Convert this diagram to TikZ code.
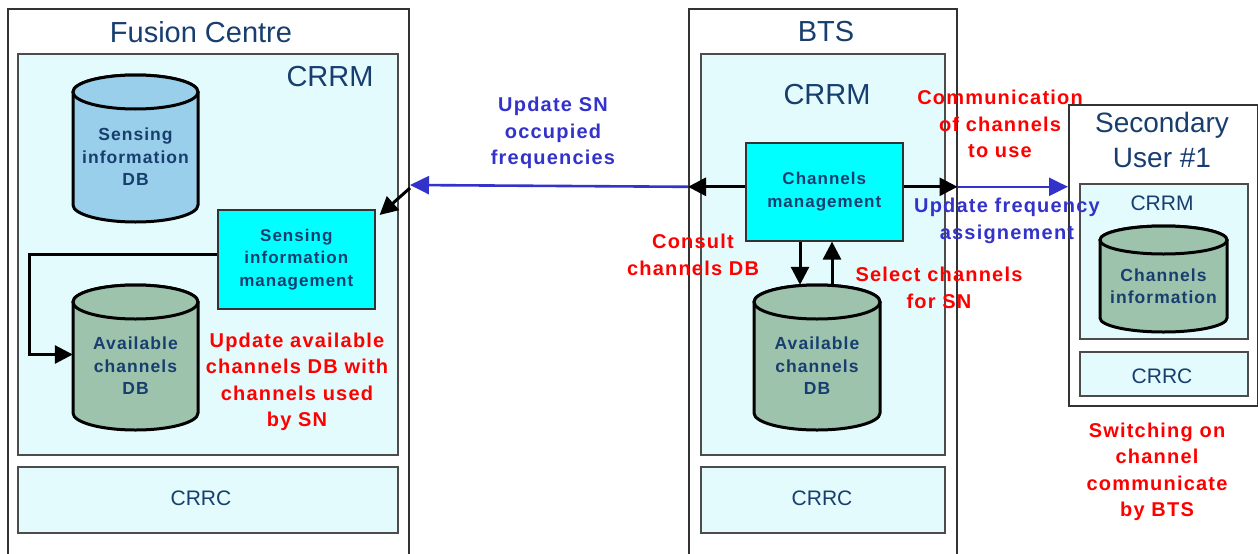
\documentclass[tikz,border=0pt]{standalone}
\usepackage{fontspec}
\setmainfont{Liberation Sans}
\newfontfamily\spaced[LetterSpace=6]{Liberation Sans}
\usetikzlibrary{arrows.meta}

\definecolor{navy}{HTML}{173E6E}
\definecolor{panelcyan}{HTML}{E3FBFC}
\definecolor{mgmtcyan}{HTML}{00FFFF}
\definecolor{sensblue}{HTML}{99CFEA}
\definecolor{chgreen}{HTML}{9DC3AD}
\definecolor{msgred}{HTML}{FF0000}
\definecolor{msgblue}{HTML}{3333CC}

\tikzset{
  box/.style n args={2}{minimum width=#1, minimum height=#2, anchor=north west, inner sep=0pt},
  outerbox/.style={draw=black!80, line width=1.5pt},
  panel/.style={draw=black!70, fill=panelcyan, line width=1.6pt},
  mgmt/.style={draw=black!80, fill=mgmtcyan, line width=1.6pt,
    text=navy, font=\spaced\bfseries\fontsize{17}{22.5}\selectfont, align=center},
  title/.style={text=navy, font=\fontsize{29}{35}\selectfont, align=center, inner sep=0pt},
  layer/.style={text=navy, font=\fontsize{21}{25}\selectfont, inner sep=0pt},
  dbtext/.style={text=navy, font=\spaced\bfseries\fontsize{17.5}{22.5}\selectfont, align=center, inner sep=0pt},
  dbline/.style={draw=black, line width=3pt},
  redtxt/.style={text=msgred, font=\spaced\bfseries\fontsize{20}{26.5}\selectfont, align=center, inner sep=0pt},
  bluetxt/.style={text=msgblue, font=\spaced\bfseries\fontsize{20}{26.5}\selectfont, align=center, inner sep=0pt},
  blk/.style={draw=black, line width=3pt, -{Triangle[length=18pt,width=18pt]}},
  blu/.style={draw=msgblue, line width=2.6pt, -{Triangle[length=19pt,width=18pt]}},
}

% database cylinder: name, left x, right x, top y, bottom y, ellipse half-height, fill, label
\newcommand\dbcyl[8]{%
  \pgfmathsetmacro\cylrx{(#3-#2)/2}%
  \pgfmathsetmacro\cylcx{(#3+#2)/2}%
  \pgfmathsetmacro\cylty{(#4+#6)}%
  \pgfmathsetmacro\cylby{(#5-#6)}%
  \pgfmathsetmacro\cylmy{(#4+#5)/2}%
  \pgfmathsetmacro\cyltxt{(#4+#5)/2+#6/2}%
  \path[dbline, fill=#7] (#2,\cylty) -- (#2,\cylby)
     arc[start angle=180, end angle=0, x radius=\cylrx, y radius=#6]
     -- (#3,\cylty)
     arc[start angle=0, end angle=-180, x radius=\cylrx, y radius=#6] -- cycle;
  \path[dbline, fill=#7] (\cylcx,\cylty) ellipse[x radius=\cylrx, y radius=#6];
  \node[inner sep=0pt, minimum width={#3-#2}, minimum height={#5-#4}] (#1) at (\cylcx,\cylmy) {};
  \node[dbtext] (#1-label) at (\cylcx,\cyltxt) {#8};
}

\begin{document}
\begin{tikzpicture}[x=1pt, y=-1pt]
\useasboundingbox[fill=white] (0,0) rectangle (1258,554);

% ---------------- Fusion Centre ----------------
\node[outerbox, box={401}{570}] (fc) at (7,8) {};
\node[title] (fc-title) at (201,32) {Fusion Centre};
\node[panel, box={380}{401}] (fc-crrm) at (17,53) {};
\node[layer, font=\fontsize{29}{35}\selectfont] (fc-crrm-label) at (330,77) {CRRM};
\dbcyl{sidb}{73}{198}{75}{222}{17}{sensblue}{Sensing\\information\\DB}
\node[mgmt, box={157}{99}] (sim) at (217,209) {Sensing\\information\\management};
\dbcyl{acdb}{73}{198}{285}{430}{17}{chgreen}{Available\\channels\\DB}
\node[redtxt] (fc-note) at (297,382) {Update available\\channels DB with\\channels used\\by SN};
\node[panel, box={380}{66}] (fc-crrc) at (17,466) {};
\node[layer] (fc-crrc-label) at (201,498) {CRRC};

\coordinate (fcbend) at (29,0);
\draw[blk] ([yshift=5pt]sim.west) -- ([yshift=5pt]sim.west -| fcbend) |- ([yshift=3pt]acdb.west);

% ---------------- BTS ----------------
\node[outerbox, box={268}{570}] (bts) at (688,8) {};
\node[title] (bts-title) at (826,32) {BTS};
\node[panel, box={244}{401}] (bts-crrm) at (700,53) {};
\node[layer, font=\fontsize{29}{35}\selectfont] (bts-crrm-label) at (827,95) {CRRM};
\node[mgmt, box={157}{98}] (cm) at (745,142) {Channels\\management};
\dbcyl{bacdb}{754}{880}{285}{430}{17}{chgreen}{Available\\channels\\DB}
\node[panel, box={244}{66}] (bts-crrc) at (700,466) {};
\node[layer] (bts-crrc-label) at (822,498) {CRRC};

\coordinate (dn) at (800,0);
\coordinate (up) at (832,0);
\draw[blk] (cm.south -| dn) -- (bacdb.north -| dn);
\draw[blk] (bacdb.north -| up) -- (cm.south -| up);

% ---------------- Secondary User ----------------
\node[outerbox, box={189}{301}] (su) at (1068,104) {};
\node[title, font=\fontsize{28}{35}\selectfont] (su-title) at (1162,140) {Secondary\\User \#1};
\node[panel, box={168}{155}] (su-crrm) at (1079,183) {};
\node[layer] (su-crrm-label) at (1162,203) {CRRM};
\dbcyl{cidb}{1100}{1227}{226}{332}{14}{chgreen}{Channels\\information}
\node[panel, box={168}{44}] (su-crrc) at (1079,351) {};
\node[layer] (su-crrc-label) at (1162,376) {CRRC};

% ---------------- messages ----------------
\coordinate (cml) at ([yshift=5pt]cm.west);
\coordinate (cmr) at ([yshift=5pt]cm.east);
\coordinate (fctip) at (410,185);
\draw[blk] (cml) -- (cml -| bts.west);
\draw[blu] (cml -| bts.west) -- (fctip);
\draw[blk] ([yshift=-3pt]fctip) -- ([shift={(4pt,-6pt)}]sim.north east);
\draw[blk] (cmr) -- (cmr -| bts.east);
\draw[blu] (cmr -| bts.east) -- (cmr -| su.west);

\node[bluetxt] (upd-sn) at (553,133) {Update SN\\occupied\\frequencies};
\node[redtxt] (consult) at (693,255) {Consult\\channels DB};
\node[redtxt] (select) at (939,288) {Select channels\\for SN};
\node[redtxt] (comm) at (1000,124) {Communication\\of channels\\to use};
\node[bluetxt] (upd-freq) at (1007,221) {Update frequency\\assignement};
\node[redtxt] (switch) at (1157,472) {Switching on\\channel\\communicate\\by BTS};
\end{tikzpicture}
\end{document}
